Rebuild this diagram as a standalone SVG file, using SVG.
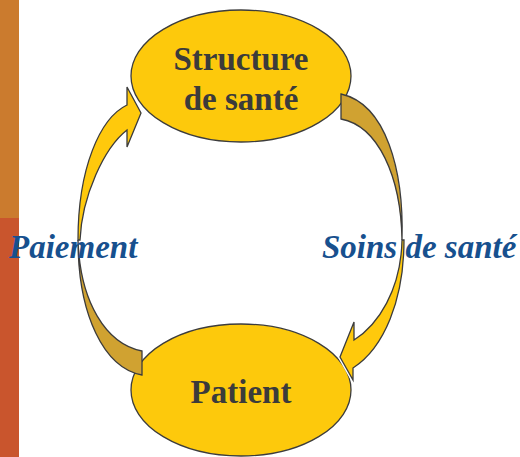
<svg xmlns="http://www.w3.org/2000/svg" width="520" height="457" viewBox="0 0 520 457">
  <style>
    .node { fill: #FDC90C; stroke: #3C3C3C; stroke-width: 1.3; }
    .ntext { font-family: "Liberation Serif", "Times New Roman", serif; font-weight: bold; font-size: 33px; fill: #3B3B3B; text-anchor: middle; }
    .ltext { font-family: "Liberation Serif", "Times New Roman", serif; font-weight: bold; font-style: italic; font-size: 33px; fill: #17508E; }
    .halo { fill: none; stroke: #FFFFFF; stroke-width: 4; stroke-linejoin: round; }
    .bright { fill: #FFC90C; stroke: #3C3C3C; stroke-width: 1.3; stroke-linejoin: miter; }
    .dark { fill: #D0A231; stroke: #3C3C3C; stroke-width: 1.3; stroke-linejoin: miter; }
  </style>
  <rect x="0" y="0" width="520" height="457" fill="#FFFFFF"/>
  <g id="sidebar">
    <rect x="0" y="0" width="19" height="218" fill="#CB7B2E"/>
    <rect x="0" y="218" width="19" height="239" fill="#C9552D"/>
  </g>
  <g id="node-structure">
    <ellipse class="node" cx="241" cy="76" rx="110" ry="66"/>
    <text class="ntext" x="241" y="70">Structure</text>
    <text class="ntext" x="241" y="110">de santé</text>
  </g>
  <g id="node-patient">
    <ellipse class="node" cx="241" cy="390" rx="110" ry="66"/>
    <text class="ntext" x="241" y="403">Patient</text>
  </g>
  <g id="connectors">
    <g id="arrow-paiement">
      <path class="dark" d="M142,351 L142,375 C104,368 78,315 78,240 C80,302 106,344 142,351 Z"/>
      <path class="halo" d="M127,87 L141,113 L127,147"/>
      <path class="bright" d="M78,240 C78,168 100,118 127,105 L127,87 L141,113 L127,147 L127,130 C104,148 82,196 80,240 Z"/>
    </g>
    <g id="arrow-soins">
      <path class="dark" d="M341,94 L341,119 C378,126 401,176 402,240 C404,170 386,104 341,94 Z"/>
      <path class="halo" d="M354,322 L340,357 L353,380"/>
      <path class="bright" d="M404,240 C404,300 384,348 353,368 L353,380 L340,357 L354,322 L354,340 C378,325 401,290 402,240 Z"/>
    </g>
  </g>
  <g id="labels">
    <text class="ltext" x="9" y="258">Paiement</text>
    <text class="ltext" x="322" y="258">Soins de santé</text>
  </g>
</svg>
